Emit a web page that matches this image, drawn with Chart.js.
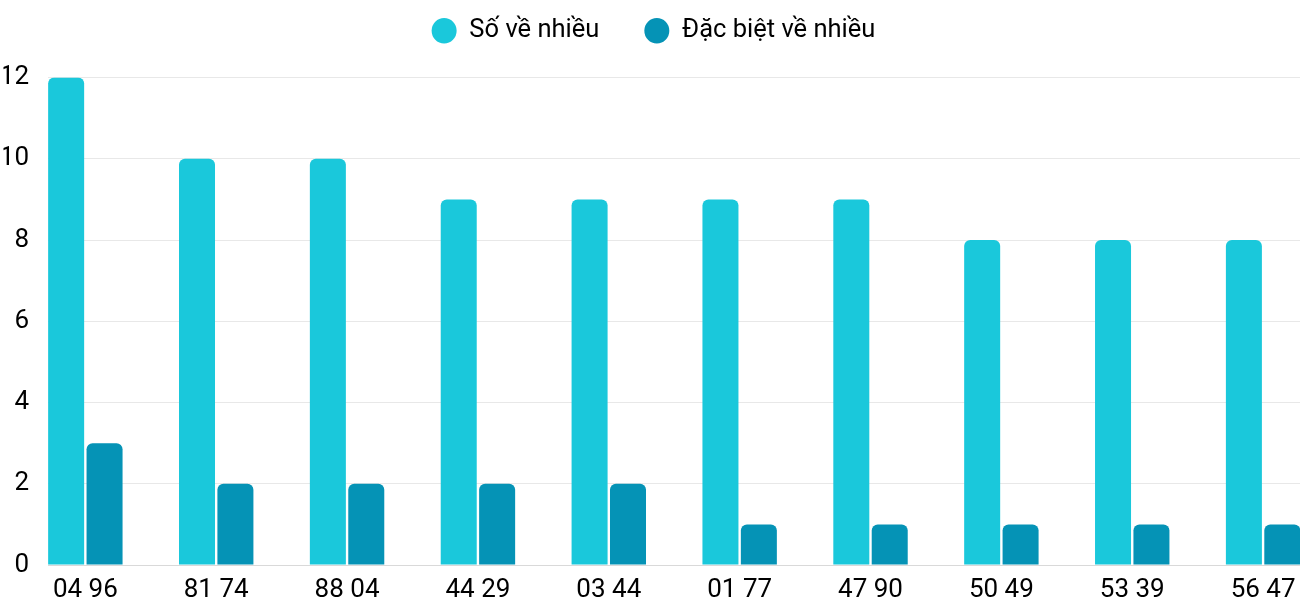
<!DOCTYPE html>
<html>
<head>
<meta charset="utf-8">
<script src="https://cdn.jsdelivr.net/npm/chart.js@4.4.1/dist/chart.umd.min.js"></script>
<style>
  html, body { margin: 0; padding: 0; background: #fff; overflow: hidden; }
  #wrap { width: 1300px; height: 600px; position: relative; }
</style>
</head>
<body>
<div id="wrap"><canvas id="c"></canvas></div>
<script>
const categories = ["04 96", "81 74", "88 04", "44 29", "03 44", "01 77", "47 90", "50 49", "53 39", "56 47"];
const soVeNhieu = [12, 10, 10, 9, 9, 9, 9, 8, 8, 8];
const dacBietVeNhieu = [3, 2, 2, 2, 2, 1, 1, 1, 1, 1];
const seriesNames = ["Số về nhiều", "Đặc biệt về nhiều"];
const yTicks = [0, 2, 4, 6, 8, 10, 12];

const FONT = "Roboto, 'Noto Sans', sans-serif";
const toPoints = arr => arr.map((v, i) => ({ x: i, y: v }));

new Chart(document.getElementById('c'), {
  type: 'bar',
  data: {
    datasets: [
      { label: seriesNames[0], data: toPoints(soVeNhieu), backgroundColor: '#1AC8DB', borderWidth: 0, borderRadius: 6 },
      { label: seriesNames[1], data: toPoints(dacBietVeNhieu), backgroundColor: '#0593B6', borderWidth: 0, borderRadius: 6 }
    ]
  },
  options: {
    responsive: true,
    maintainAspectRatio: false,
    animation: false,
    layout: { padding: { top: -27, left: 3.5, right: -3.5, bottom: 0 } },
    datasets: { bar: { categoryPercentage: 0.587, barPercentage: 0.9375 } },
    plugins: {
      legend: {
        position: 'top',
        weight: 3000,
        labels: {
          usePointStyle: true,
          pointStyle: 'circle',
          pointStyleWidth: 25,
          boxHeight: 18,
          padding: 45,
          color: '#000',
          font: { family: FONT, size: 25.5 }
        }
      },
      title: { display: true, text: '', padding: 0, font: { size: 20, lineHeight: 1.2 } },
      tooltip: { enabled: false }
    },
    scales: {
      x: {
        type: 'linear',
        offset: false,
        min: -0.2854,
        max: 9.282,
        afterFit: s => { s.height = 35; s.paddingLeft = 0; s.paddingRight = 0; },
        grid: { display: false, drawTicks: false, offset: false },
        border: { display: false },
        ticks: {
          stepSize: 1,
          includeBounds: false,
          autoSkip: false,
          maxRotation: 0,
          padding: 10,
          color: '#000',
          font: { family: FONT, size: 26 },
          callback: v => (Number.isInteger(v) && categories[v] !== undefined) ? categories[v] : ''
        }
      },
      y: {
        min: 0,
        max: 12,
        afterBuildTicks: s => { s.ticks = yTicks.map(v => ({ value: v })); },
        afterFit: s => { s.width = 44.5; },
        grid: {
          drawTicks: false,
          color: ctx => ctx.tick && ctx.tick.value === 0 ? '#d9d9d9' : '#e8e8e8'
        },
        border: { display: false },
        ticks: {
          padding: 19,
          color: '#000',
          font: { family: FONT, size: 26 }
        }
      }
    }
  }
});
</script>
</body>
</html>
